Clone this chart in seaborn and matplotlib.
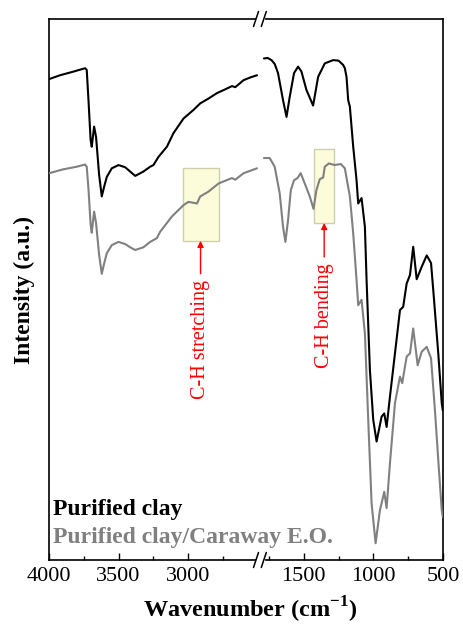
import numpy as np
import pandas as pd
import matplotlib
matplotlib.use("Agg")
import matplotlib.pyplot as plt
import seaborn as sns
from matplotlib.patches import Rectangle
from matplotlib.lines import Line2D

# ---------------- data ----------------
wn_clay = [3998, 3921, 3835, 3741, 3729, 3716, 3701, 3693, 3676, 3662, 3640, 3621,
           3604, 3585, 3549, 3501, 3453, 3417, 3381, 3322, 3273, 3250, 3214, 3153,
           3106, 3034, 2962, 2914, 2854, 2794, 2734, 2686, 2662, 2602, 2554, 2506,
           1786, 1760, 1732, 1709, 1685, 1649, 1624, 1601, 1570, 1541, 1517, 1481,
           1433, 1397, 1349, 1289, 1250, 1217, 1205, 1193, 1181, 1169, 1145, 1121,
           1109, 1085, 1061, 1049, 1025, 1001, 977, 941, 922, 905, 881, 845,
           809, 786, 761, 737, 714, 689, 653, 617, 586, 570, 534, 509, 502]
int_clay = [88.9, 89.6, 90.2, 90.9, 90.6, 84.8, 77.6, 76.4, 80.1, 78.2, 71.2, 67.2,
            69.0, 70.8, 72.4, 73.0, 72.6, 71.8, 71.0, 71.8, 72.7, 73.0, 74.5, 76.4,
            78.9, 81.6, 83.2, 84.4, 85.3, 86.3, 87.0, 87.6, 87.4, 88.7, 89.2, 89.6,
            92.7, 92.8, 92.4, 91.7, 90.0, 85.0, 81.9, 85.6, 90.0, 91.2, 90.3, 86.9,
            84.0, 89.3, 91.8, 92.4, 92.3, 91.5, 90.9, 89.3, 85.0, 83.8, 76.4, 70.2,
            65.9, 66.9, 61.6, 51.8, 35.1, 25.9, 21.9, 26.5, 27.1, 24.6, 30.2, 38.2,
            46.2, 46.8, 51.1, 52.7, 57.9, 51.9, 54.2, 56.3, 54.9, 49.9, 38.2, 29.0, 27.7]

wn_cara = [3998, 3900, 3800, 3741, 3729, 3716, 3701, 3693, 3676, 3662, 3640, 3621,
           3604, 3585, 3549, 3501, 3453, 3417, 3381, 3322, 3273, 3225, 3201, 3117,
           3034, 2998, 2937, 2914, 2854, 2782, 2686, 2662, 2602, 2506,
           1786, 1745, 1709, 1673, 1649, 1632, 1613, 1593, 1570, 1545, 1522, 1493,
           1457, 1430, 1409, 1385, 1361, 1349, 1320, 1277, 1234, 1205, 1169, 1145,
           1121, 1109, 1085, 1061, 1037, 1013, 984, 953, 922, 905, 881, 845, 809,
           793, 761, 737, 714, 682, 653, 617, 586, 558, 529, 509, 502]
int_cara = [71.5, 72.2, 72.7, 73.1, 72.7, 68.4, 62.0, 60.5, 64.4, 62.3, 56.4, 52.9,
            54.8, 56.7, 58.2, 58.8, 58.4, 57.8, 57.3, 57.8, 58.8, 59.5, 60.7, 63.5,
            65.6, 66.2, 65.9, 67.2, 68.1, 69.6, 70.6, 70.3, 71.5, 72.4,
            74.3, 74.3, 72.7, 67.8, 61.6, 58.8, 62.8, 68.4, 70.2, 70.6, 71.5, 69.6,
            67.2, 64.9, 68.4, 70.4, 70.7, 72.7, 73.3, 73.0, 73.2, 72.4, 67.2, 60.4,
            51.8, 47.1, 48.1, 41.9, 25.9, 10.5, 3.1, 9.2, 12.6, 9.6, 17.9, 29.0, 33.9,
            32.7, 37.6, 38.2, 42.8, 36.0, 38.5, 39.4, 37.3, 27.7, 16.6, 9.2, 8.0]

series_names = ["Purified clay", "Purified clay/Caraway E.O."]
series_colors = ["#000000", "#808080"]

left_major = [4000, 3500, 3000]
left_minor = [3750, 3250, 2750]
right_major = [1500, 1000, 500]
right_minor = [1750, 1250, 750]

df = pd.concat([
    pd.DataFrame({"wn": wn_clay, "I": int_clay, "s": series_names[0]}),
    pd.DataFrame({"wn": wn_cara, "I": int_cara, "s": series_names[1]}),
])

# ---------------- figure ----------------
sns.set_theme(style="white")
plt.rcParams["font.family"] = ["Liberation Serif", "DejaVu Serif"]
plt.rcParams["mathtext.fontset"] = "custom"
plt.rcParams["mathtext.rm"] = "Liberation Serif"
plt.rcParams["mathtext.bf"] = "Liberation Serif:bold"
for k in ("text.color", "axes.labelcolor", "xtick.color", "ytick.color",
          "xtick.labelcolor", "ytick.labelcolor"):
    plt.rcParams[k] = "black"

W, H = 464, 624
fig = plt.figure(figsize=(W / 100, H / 100), dpi=100, facecolor="white")
gs = fig.add_gridspec(1, 2, width_ratios=[1530, 1300], wspace=0,
                      left=49 / W, right=443 / W, top=1 - 19 / H, bottom=1 - 560 / H)
axL = fig.add_subplot(gs[0])
axR = fig.add_subplot(gs[1], sharey=axL)

palette = dict(zip(series_names, series_colors))
for ax, sub, xl in [(axL, df[df.wn >= 2400], (4000, 2470)),
                    (axR, df[df.wn <= 1850], (1800, 500))]:
    for name in series_names:
        d = sub[sub.s == name]
        sns.lineplot(data=d, x="wn", y="I", ax=ax, color=palette[name],
                     lw=1.5, sort=False, legend=False, zorder=3,
                     solid_joinstyle="round", solid_capstyle="round")
    ax.set_xlim(*xl)
    ax.set_ylim(0, 100)
    ax.set_xlabel("")
    ax.set_ylabel("")
    for sp in ax.spines.values():
        sp.set_color("black")
        sp.set_linewidth(1.2)
    ax.tick_params(axis="x", which="major", direction="in", length=5, width=1,
                   labelsize=16, pad=5, color="black", labelcolor="black",
                   bottom=True, top=False)
    ax.tick_params(axis="x", which="minor", direction="in", length=3, width=1,
                   color="black", bottom=True, top=False)
    ax.tick_params(axis="y", left=False, right=False, labelleft=False)

axL.set_xticks(left_major)
axL.set_xticks(left_minor, minor=True)
axR.set_xticks(right_major)
axR.set_xticks(right_minor, minor=True)
axL.spines["right"].set_visible(False)
axR.spines["left"].set_visible(False)

axL.set_ylabel("Intensity (a.u.)", fontsize=17, fontweight="bold", labelpad=10,
               color="black")

# annotation boxes and arrows
def mark(ax, x0, x1, y0, y1, label, ytext):
    ax.add_patch(Rectangle((x0, y0), x1 - x0, y1 - y0, facecolor="#fcfcda",
                           edgecolor="#cfcfb0", lw=1, zorder=1))
    xc = (x0 + x1) / 2
    ax.annotate(label, xy=(xc, y0), xytext=(xc, ytext), rotation=90,
                ha="center", va="top", color="#ff0000", fontsize=14.5,
                arrowprops=dict(arrowstyle="-|>", color="#ff0000", lw=1,
                                mutation_scale=9, shrinkA=2, shrinkB=0))

mark(axL, 3041, 2782, 59.0, 72.5, "C-H stretching", 51.8)
mark(axR, 1425, 1282, 62.3, 75.9, "C-H bending", 54.9)

# series labels
fig.text(53 / W, 1 - 515 / H, series_names[0], color=series_colors[0],
         fontsize=17, fontweight="bold", va="baseline", ha="left")
fig.text(53 / W, 1 - 543 / H, series_names[1], color=series_colors[1],
         fontsize=17, fontweight="bold", va="baseline", ha="left")

fig.text(250 / W, 1 - 610 / H, r"Wavenumber (cm$^{\mathbf{-1}}$)", fontsize=17.5,
         fontweight="bold", ha="center", va="center", color="black")

# axis break marks
def P(x, y):
    return (x / W, 1 - y / H)

for ys in (19, 560):
    xa, ya = P(256.5, ys)
    xb, yb = P(263.5, ys)
    fig.add_artist(Line2D([xa, xb], [ya, yb], transform=fig.transFigure,
                          color="white", lw=2.5, zorder=10))
    for xc in (256.0, 263.8):
        x0, y0 = P(xc - 2.5, ys + 7.5)
        x1, y1 = P(xc + 2.5, ys - 7.5)
        fig.add_artist(Line2D([x0, x1], [y0, y1], transform=fig.transFigure,
                              color="black", lw=1.1, zorder=11))

fig.savefig("out.png", dpi=100, facecolor="white")
